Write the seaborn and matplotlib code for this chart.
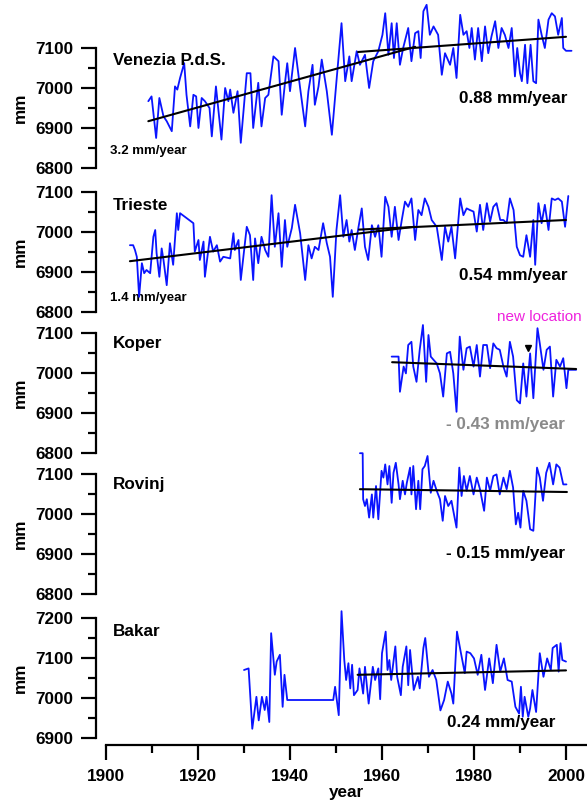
import matplotlib
matplotlib.use('Agg')
import matplotlib.pyplot as plt
from matplotlib.transforms import blended_transform_factory
import seaborn as sns

# ---------------------------------------------------------------------------
# Annual mean sea level series (mm)
# ---------------------------------------------------------------------------
ven_year = [1909.2, 1909.9, 1910.9, 1911.6, 1912.5, 1913.2, 1914.3, 1915.0, 1915.5, 1916.1,
            1917.0, 1917.5, 1918.3, 1919.0, 1919.6, 1920.1, 1920.8, 1921.5, 1922.5, 1923.0,
            1923.9, 1925.1, 1925.9, 1926.6, 1927.0, 1927.7, 1928.6, 1929.3, 1930.6, 1931.4,
            1932.0, 1933.1, 1933.8, 1934.6, 1935.3, 1936.4, 1937.5, 1938.2, 1938.9, 1939.4,
            1940.0, 1941.1, 1942.2, 1943.3, 1944.0, 1944.9, 1945.4, 1946.2, 1946.9, 1948.0,
            1949.1, 1950.1, 1951.2, 1952.0, 1952.9, 1953.4, 1954.5, 1955.2, 1956.3, 1957.2,
            1958.1, 1959.2, 1960.1, 1960.7, 1961.4, 1962.1, 1962.6, 1963.2, 1963.9, 1964.6,
            1965.7, 1966.4, 1967.2, 1967.9, 1968.4, 1969.0, 1969.7, 1970.4, 1971.2, 1972.2,
            1973.0, 1973.7, 1974.8, 1975.5, 1976.2, 1977.0, 1977.7, 1978.4, 1979.0, 1979.5,
            1980.2, 1980.9, 1981.7, 1982.4, 1983.1, 1983.8, 1984.6, 1985.3, 1986.0, 1986.7,
            1987.5, 1988.2, 1988.9, 1989.4, 1990.0, 1990.4, 1991.1, 1991.6, 1992.3, 1992.9,
            1993.5, 1994.0, 1994.7, 1995.4, 1996.2, 1996.9, 1997.6, 1998.3, 1999.1, 1999.4,
            2000.0, 2001.2]
ven_mm = [6967, 6979, 6875, 6975, 6929, 6917, 6892, 7004, 6996, 7025,
          7062, 6983, 6904, 6983, 6979, 6900, 6975, 6967, 6950, 6879,
          7004, 6871, 7000, 6967, 6996, 6938, 6992, 6863, 7037, 7037,
          6900, 7013, 6904, 6975, 6983, 7079, 7067, 6933, 7012, 7062,
          6992, 7100, 7000, 6904, 6992, 7058, 6958, 7004, 7071, 6992,
          6883, 7017, 7162, 7017, 7079, 7017, 7092, 7058, 7083, 7000,
          7067, 7092, 7133, 7187, 7083, 7162, 7075, 7162, 7058, 7100,
          7150, 7067, 7137, 7142, 7075, 7192, 7208, 7133, 7154, 7133,
          7033, 7087, 7058, 7100, 7025, 7183, 7133, 7142, 7100, 7150,
          7071, 7150, 7067, 7154, 7087, 7129, 7167, 7100, 7150, 7133,
          7100, 7150, 7029, 7100, 7037, 7017, 7108, 7012, 7108, 7017,
          7012, 7171, 7133, 7100, 7171, 7187, 7179, 7133, 7175, 7100,
          7093, 7093]

tri_year = [1905.2, 1905.9, 1906.3, 1906.7, 1907.2, 1907.8, 1908.3, 1908.8, 1909.6, 1910.3,
            1910.7, 1911.0, 1911.6, 1912.1, 1912.5, 1913.2, 1913.9, 1914.6, 1915.4, 1915.7,
            1916.1, 1919.0, 1919.3, 1920.1, 1920.4, 1921.2, 1921.5, 1922.6, 1923.3, 1924.1,
            1924.8, 1925.5, 1927.0, 1927.7, 1928.0, 1928.8, 1929.3, 1930.6, 1931.3, 1932.0,
            1932.4, 1933.1, 1933.8, 1934.6, 1935.3, 1936.0, 1936.7, 1937.5, 1938.2, 1938.9,
            1939.4, 1940.4, 1941.1, 1942.2, 1943.3, 1944.0, 1944.7, 1945.4, 1946.2, 1947.2,
            1948.0, 1948.7, 1949.3, 1950.1, 1950.9, 1951.6, 1952.3, 1952.9, 1953.4, 1954.1,
            1954.9, 1955.6, 1956.3, 1957.0, 1957.8, 1958.5, 1959.2, 1959.9, 1960.7, 1961.4,
            1962.1, 1962.8, 1963.6, 1964.3, 1965.0, 1965.7, 1966.4, 1967.2, 1967.9, 1968.6,
            1969.3, 1970.1, 1970.8, 1971.9, 1973.0, 1973.7, 1974.4, 1975.1, 1975.9, 1977.0,
            1977.7, 1978.4, 1979.1, 1979.9, 1980.6, 1981.3, 1982.0, 1982.8, 1983.5, 1984.2,
            1984.9, 1985.7, 1986.4, 1987.1, 1987.8, 1988.6, 1989.3, 1990.0, 1990.7, 1991.4,
            1992.2, 1992.9, 1993.3, 1994.0, 1994.7, 1995.4, 1996.2, 1996.9, 1997.6, 1998.3,
            1999.1, 1999.8, 2000.5]
tri_mm = [6967, 6967, 6955, 6938, 6838, 6922, 6897, 6905, 6897, 6988,
          7005, 6947, 6888, 6959, 6930, 6867, 6972, 6918, 7047, 7005,
          7047, 7022, 6951, 6980, 6930, 6976, 6888, 6988, 6951, 6967,
          6926, 6938, 6934, 6997, 6955, 6980, 6880, 7013, 6992, 6880,
          6984, 6922, 6988, 6955, 6938, 7092, 6963, 7047, 6913, 7030,
          6963, 7010, 7068, 6997, 6880, 6967, 6934, 6963, 6955, 7022,
          6972, 6938, 6838, 7005, 7092, 6988, 7030, 6976, 7005, 6955,
          7013, 7059, 6963, 6930, 7017, 6988, 7017, 6938, 7088, 7063,
          6988, 7063, 6980, 7030, 7076, 7063, 7084, 6980, 7055, 7042,
          7084, 7063, 7030, 7013, 6930, 7013, 6976, 7013, 6934, 7084,
          7042, 7059, 7055, 7051, 7001, 7068, 7005, 7072, 7026, 7063,
          7072, 7030, 7030, 7022, 7084, 7055, 6963, 6942, 6938, 6992,
          6938, 7030, 6918, 7072, 7022, 7068, 7005, 7084, 7080, 7084,
          7076, 7013, 7090]

kop_year = [1962.1, 1963.6, 1963.9, 1964.7, 1965.2, 1965.7, 1966.4, 1966.8, 1967.5, 1968.2,
            1968.9, 1969.6, 1970.1, 1970.6, 1971.2, 1971.9, 1972.6, 1973.3, 1974.1, 1974.8,
            1975.5, 1976.2, 1976.9, 1977.7, 1978.4, 1979.1, 1979.9, 1980.6, 1981.3, 1982.0,
            1982.8, 1983.5, 1984.2, 1984.9, 1985.6, 1986.4, 1987.1, 1987.8, 1988.5, 1989.3,
            1990.0, 1990.7, 1991.4, 1992.2, 1992.9, 1993.8, 1994.3, 1995.1, 1995.8, 1996.5,
            1997.2, 1997.9, 1998.7, 1999.4, 2000.1, 2000.5, 2002.2]
kop_mm = [7041, 7041, 6953, 7016, 6999, 7070, 7078, 7016, 6978, 7058,
          7120, 6978, 7095, 7041, 7033, 7024, 6999, 6941, 7049, 7053,
          6999, 6903, 7091, 7008, 7062, 7066, 7016, 7070, 6991, 7070,
          7070, 7012, 7074, 7062, 7058, 7016, 6991, 7078, 7041, 6932,
          6924, 7024, 6941, 7049, 6937, 7112, 7074, 7008, 7058, 7066,
          6941, 7033, 7016, 7037, 6962, 7008, 7008]

rov_year = [1955.2, 1955.8, 1955.9, 1956.3, 1956.7, 1957.2, 1957.8, 1958.1, 1958.7, 1959.2,
            1959.9, 1960.3, 1960.7, 1961.2, 1961.6, 1962.1, 1962.5, 1963.0, 1963.6, 1963.9,
            1964.5, 1965.0, 1965.4, 1966.1, 1966.4, 1966.8, 1967.4, 1967.9, 1968.3, 1968.8,
            1969.3, 1969.9, 1970.6, 1971.2, 1971.9, 1972.6, 1973.2, 1973.7, 1974.4, 1975.1,
            1975.5, 1976.2, 1976.8, 1977.3, 1977.8, 1978.4, 1979.1, 1979.9, 1980.6, 1981.3,
            1982.2, 1982.8, 1983.5, 1984.2, 1984.9, 1985.6, 1986.4, 1987.1, 1987.8, 1988.5,
            1989.1, 1989.6, 1990.1, 1990.7, 1991.4, 1992.2, 1992.9, 1993.2, 1993.7, 1994.3,
            1995.0, 1995.7, 1996.4, 1997.2, 1997.9, 1998.6, 1999.4, 2000.1]
rov_mm = [7152, 7152, 7037, 7020, 7037, 6991, 7049, 6991, 7070, 6987,
          7108, 7091, 7124, 7074, 7120, 7028, 7103, 7128, 7074, 7037,
          7083, 7049, 7078, 7116, 7049, 7120, 7012, 7083, 7012, 7112,
          7120, 7145, 7053, 7083, 7058, 7037, 6983, 7045, 7020, 7033,
          7008, 6966, 7116, 7045, 7095, 7058, 7095, 7049, 7091, 7062,
          7008, 7091, 7058, 7095, 7099, 7049, 7091, 7062, 7108, 7066,
          6974, 7003, 6966, 7058, 7033, 6962, 6958, 7016, 7116, 7091,
          7033, 7103, 7128, 7074, 7124, 7116, 7074, 7074]

bak_year = [1930.0, 1931.0, 1931.8, 1932.7, 1933.2, 1933.9, 1934.5, 1934.9, 1935.5, 1935.9,
            1936.7, 1937.1, 1937.8, 1938.4, 1938.8, 1939.4, 1949.4, 1949.8, 1950.6, 1951.2,
            1951.8, 1952.2, 1952.7, 1953.1, 1953.5, 1953.9, 1954.7, 1955.1, 1955.9, 1956.3,
            1957.1, 1958.0, 1958.5, 1959.2, 1959.6, 1960.0, 1960.8, 1961.2, 1961.6, 1962.0,
            1962.9, 1963.3, 1964.1, 1964.5, 1965.3, 1965.7, 1966.1, 1966.9, 1967.8, 1968.2,
            1969.0, 1969.4, 1970.2, 1970.6, 1971.0, 1971.8, 1972.7, 1973.5, 1974.3, 1975.1,
            1975.5, 1976.3, 1977.1, 1978.0, 1978.4, 1979.2, 1980.0, 1980.8, 1981.6, 1982.4,
            1983.3, 1984.1, 1984.9, 1985.7, 1986.5, 1987.3, 1988.2, 1989.0, 1989.8, 1990.2,
            1990.6, 1991.0, 1991.8, 1992.2, 1992.7, 1993.5, 1994.3, 1995.1, 1995.9, 1996.7,
            1997.1, 1998.0, 1998.4, 1998.8, 1999.2, 2000.0]
bak_mm = [7070, 7074, 6923, 7003, 6944, 7003, 6970, 7003, 6940, 7162,
          7058, 7091, 7108, 6978, 7058, 6995, 6995, 7028, 6957, 7217,
          7095, 7045, 7087, 7024, 7083, 7007, 7020, 7074, 7011, 7078,
          6986, 7078, 7045, 7074, 6997, 7112, 7166, 7070, 7095, 7045,
          7129, 7053, 7007, 7078, 7129, 7032, 7120, 7020, 7053, 7024,
          7125, 7150, 7053, 7062, 7070, 7045, 6969, 6995, 7041, 7011,
          6986, 7166, 7116, 7062, 7116, 7112, 7099, 7058, 7108, 7020,
          7099, 7037, 7133, 7066, 7099, 7045, 7041, 6978, 6961, 7028,
          6953, 7003, 6953, 6974, 7020, 6965, 7112, 7053, 7099, 7070,
          7125, 7133, 7066, 7137, 7095, 7091]

# Linear trends (segment end points)
ven_trend_year = [[1909.2, 1967.2], [1954.8, 2000.0]]
ven_trend_mm = [[6917, 7103], [7090, 7128]]
tri_trend_year = [[1905.2, 1967.0], [1955.0, 2000.0]]
tri_trend_mm = [[6927, 7013], [7006, 7030]]
kop_trend_year = [[1962.2, 2002.2]]
kop_trend_mm = [[7027, 7010]]
rov_trend_year = [[1955.2, 2000.2]]
rov_trend_mm = [[7062, 7055]]
bak_trend_year = [[1954.7, 2000.0]]
bak_trend_mm = [[7058, 7069]]

stations = ['Venezia P.d.S.', 'Trieste', 'Koper', 'Rovinj', 'Bakar']
rate_labels = ['0.88 mm/year', '0.54 mm/year', '- 0.43 mm/year', '- 0.15 mm/year', '0.24 mm/year']
early_labels = ['3.2 mm/year', '1.4 mm/year', None, None, None]

# ---------------------------------------------------------------------------
sns.set_style('ticks')
plt.rcParams['font.family'] = ['Liberation Sans', 'DejaVu Sans']
plt.rcParams['font.weight'] = 'bold'
plt.rcParams['axes.labelweight'] = 'bold'
for key in ['text.color', 'axes.labelcolor', 'xtick.color', 'ytick.color', 'axes.edgecolor']:
    plt.rcParams[key] = 'black'

W, H = 587, 810
fig = plt.figure(figsize=(W / 100, H / 100), dpi=100)

PX_PER_MM = 0.4
X_LEFT, X_RIGHT = 106, 587
YEAR_MIN = 1900
YEAR_MAX = 1900 + (X_RIGHT - X_LEFT) / 4.6

# (top px, bottom px, value at bottom, spine range, station label y, rate label y, early label y)
panels = [
    (0, 168, 6800, (6800, 7100), 7070, 6975, 6842),
    (172, 312, 6800, (6800, 7100), 7065, 6892, 6835),
    (312, 453, 6800, (6800, 7100), 7075, 6872, None),
    (445, 594, 6800, (6800, 7100), 7075, 6902, None),
    (600, 745, 6882.5, (6900, 7200), 7166, 6940, None),
]
series = [(ven_year, ven_mm, ven_trend_year, ven_trend_mm),
          (tri_year, tri_mm, tri_trend_year, tri_trend_mm),
          (kop_year, kop_mm, kop_trend_year, kop_trend_mm),
          (rov_year, rov_mm, rov_trend_year, rov_trend_mm),
          (bak_year, bak_mm, bak_trend_year, bak_trend_mm)]
rate_right = [2000.2, 2000.4, 1999.8, 1999.8, 1997.6]
rate_colors = ['black', 'black', '#8a8a8a', 'black', 'black']

FS = 12.3
axes = []
for i, (top, bot, vmin, (lo, hi), name_y, rate_y, early_y) in enumerate(panels):
    ax = fig.add_axes([X_LEFT / W, 1 - bot / H, (X_RIGHT - X_LEFT) / W, (bot - top) / H])
    ax.patch.set_visible(False)
    yrs, vals, tyrs, tvals = series[i]

    if early_labels[i]:
        ax.text(1900.9, early_y, early_labels[i], fontsize=9.5, ha='left', va='center', zorder=1)

    sns.lineplot(x=yrs, y=vals, ax=ax, color='#0a14ff', lw=1.3, estimator=None, zorder=3)
    for ty, tv in zip(tyrs, tvals):
        sns.lineplot(x=ty, y=tv, ax=ax, color='black', lw=1.5, estimator=None, zorder=4)

    ax.set_xlim(YEAR_MIN, YEAR_MAX)
    ax.set_ylim(vmin, vmin + (bot - top) / PX_PER_MM)

    ax.text(1901.5, name_y, stations[i], fontsize=FS, ha='left', va='center')
    ax.text(rate_right[i], rate_y, rate_labels[i], fontsize=FS, ha='right', va='center',
            color=rate_colors[i])

    # left axis
    ax.spines['top'].set_visible(False)
    ax.spines['right'].set_visible(False)
    ax.spines['left'].set_position(('outward', 7.2))
    ax.spines['left'].set_bounds(lo, hi)
    ax.spines['left'].set_linewidth(1.6)
    ax.set_yticks(range(lo, hi + 1, 100))
    ax.set_yticks(range(lo + 50, hi, 100), minor=True)
    ax.tick_params(axis='y', which='major', length=11, width=1.6, pad=5.5, labelsize=FS)
    ax.tick_params(axis='y', which='minor', length=5.5, width=1.6)
    ax.set_ylabel('mm', fontsize=FS, fontweight='bold', va='center')
    ax.yaxis.set_label_coords((20 - X_LEFT) / (X_RIGHT - X_LEFT), (lo + hi) / 2,
                              transform=blended_transform_factory(ax.transAxes, ax.transData))

    if i < 4:
        ax.spines['bottom'].set_visible(False)
        ax.tick_params(axis='x', which='both', bottom=False, labelbottom=False)
    else:
        ax.spines['bottom'].set_linewidth(1.6)
        ax.set_xticks(range(1900, 2001, 20))
        ax.set_xticks(range(1910, 2001, 20), minor=True)
        ax.tick_params(axis='x', which='major', length=11, width=1.6, pad=6, labelsize=FS)
        ax.tick_params(axis='x', which='minor', length=5.5, width=1.6)
        ax.set_xlabel('year', fontsize=FS, fontweight='bold', labelpad=1)
    axes.append(ax)

# station relocation note on the Koper panel
ax_k = axes[2]
ax_k.text(1984.9, 7140, 'new location', color='#ee22dd', fontsize=11, fontweight='normal',
          ha='left', va='center')
ax_k.plot([1991.7], [7062], marker='v', color='black', markersize=4, ls='none', zorder=5)

fig.savefig('out.png', dpi=100)
